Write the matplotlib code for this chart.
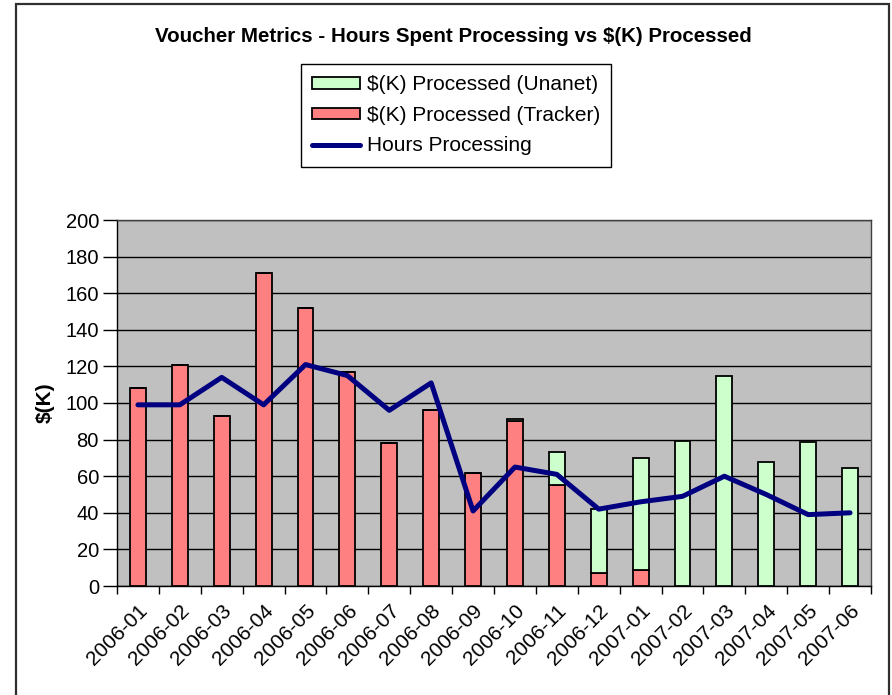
import matplotlib
matplotlib.use("Agg")
import matplotlib.pyplot as plt
from matplotlib.patches import Rectangle
from matplotlib.ticker import MultipleLocator, FixedLocator
import numpy as np

plt.rcParams['font.family'] = ['Liberation Sans', 'DejaVu Sans']

months = ["2006-01", "2006-02", "2006-03", "2006-04", "2006-05", "2006-06",
          "2006-07", "2006-08", "2006-09", "2006-10", "2006-11", "2006-12",
          "2007-01", "2007-02", "2007-03", "2007-04", "2007-05", "2007-06"]
tracker = [108, 121, 93, 171, 152, 117, 78, 96, 62, 90, 55, 7, 9, 0, 0, 0, 0, 0]
unanet = [0, 0, 0, 0, 0, 0, 0, 0, 0, 1, 18, 35, 61, 79, 115, 67.5, 78.5, 64.5]
hours = [99, 99, 114, 99, 121, 115, 96, 111, 41, 65, 61, 42, 46, 49, 60, 50, 39, 40]

W, H = 892, 695
fig = plt.figure(figsize=(W / 100, H / 100), dpi=100)
fig.patch.set_facecolor("white")

# outer chart border
fig.patches.append(Rectangle((16 / W, -0.05), (889 - 16) / W, 1.05 - 4 / H,
                             transform=fig.transFigure, fill=False,
                             edgecolor="#303030", linewidth=1.6))

ax = fig.add_axes([117 / W, (H - 586) / H, (871 - 117) / W, (586 - 220) / H])
ax.set_facecolor("#C0C0C0")

x = np.arange(len(months))
bw = 0.38
b1 = ax.bar(x, tracker, bw, color="#FF8080", edgecolor="black", linewidth=1.3,
            label="$(K) Processed (Tracker)", zorder=3)
b2 = ax.bar(x, unanet, bw, bottom=tracker, color="#CCFFCC", edgecolor="black",
            linewidth=1.3, label="$(K) Processed (Unanet)", zorder=3)
ln, = ax.plot(x, hours, color="#000080", linewidth=3.6, solid_joinstyle="round",
              solid_capstyle="round", label="Hours Processing", zorder=4)

ax.set_xlim(-0.5, len(months) - 0.5)
ax.set_ylim(0, 200)
ax.yaxis.set_major_locator(MultipleLocator(20))
ax.grid(axis="y", color="black", linewidth=1.0, zorder=1)
ax.set_axisbelow(True)

ax.set_xticks(x)
ax.set_xticklabels(months, rotation=45, ha="right", va="top",
                   rotation_mode="anchor", fontsize=15)
ax.xaxis.set_minor_locator(FixedLocator(np.arange(-0.5, len(months), 1.0)))
ax.tick_params(axis="x", which="major", length=0, pad=11)
ax.tick_params(axis="x", which="minor", length=6, width=1, color="black",
               direction="out")
ax.tick_params(axis="y", which="major", length=10, width=1, color="black",
               labelsize=14.5, pad=3)

for s in ax.spines.values():
    s.set_color("#404040")
    s.set_linewidth(1.0)
ax.spines["left"].set_color("black")
ax.spines["bottom"].set_color("black")

ax.set_ylabel("$(K)", fontsize=15, fontweight="bold", labelpad=8)

fig.text(453 / W, 1 - 36 / H,
         "Voucher Metrics - Hours Spent Processing vs $(K) Processed",
         ha="center", va="center", fontsize=14.8, fontweight="bold")

leg = fig.legend([b2, b1, ln],
                 ["$(K) Processed (Unanet)", "$(K) Processed (Tracker)", "Hours Processing"],
                 loc="upper left", bbox_to_anchor=(301 / W, 1 - 64 / H),
                 fontsize=15, frameon=True, fancybox=False, framealpha=1,
                 edgecolor="black", handlelength=2.3, handleheight=0.5,
                 handletextpad=0.3, borderpad=0.55, labelspacing=0.55,
                 borderaxespad=0)
leg.get_frame().set_linewidth(1.0)

fig.savefig("out.png", dpi=100)
